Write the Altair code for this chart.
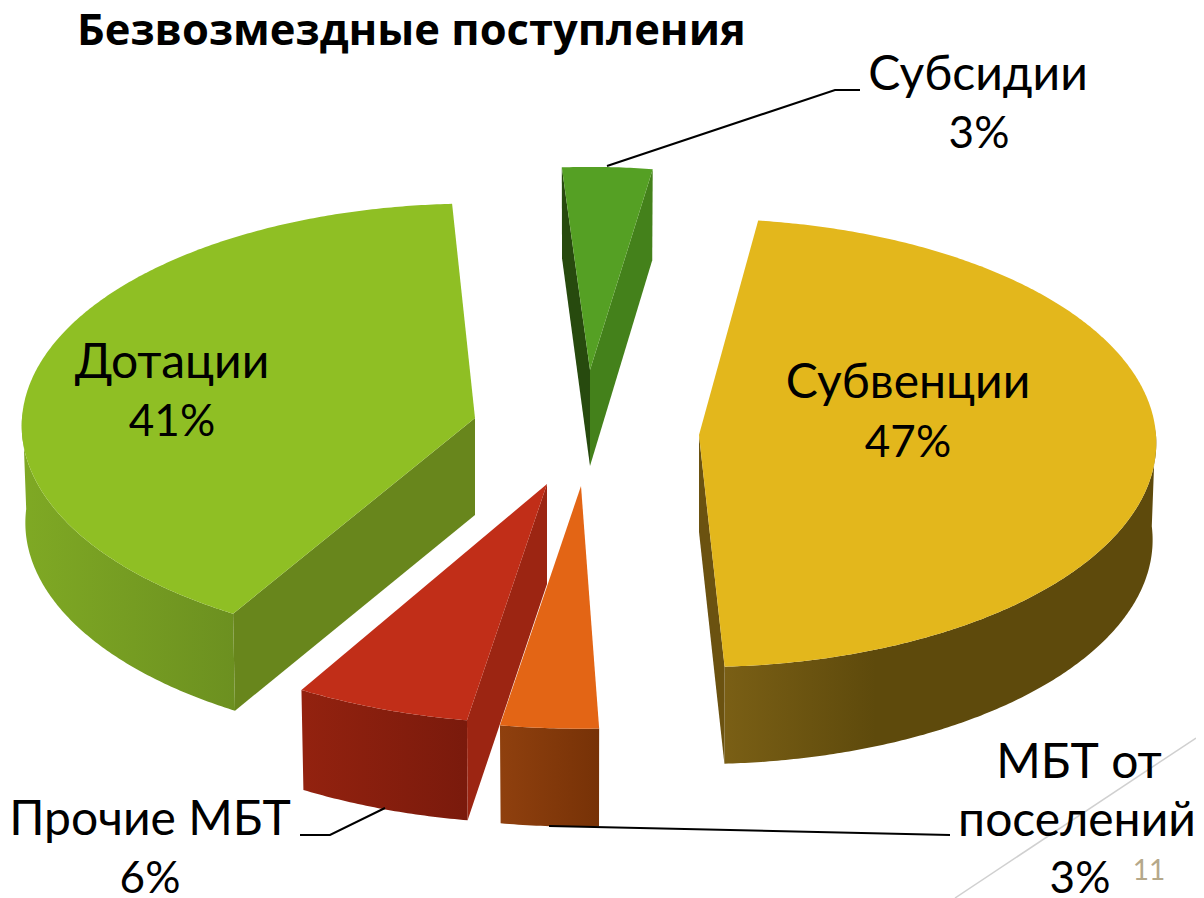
import numpy as np
import pandas as pd
import altair as alt

# ---- data
categories = ["Субвенции", "МБТ от поселений", "Прочие МБТ", "Дотации", "Субсидии"]
shares = [47.0, 3.2, 5.8, 40.5, 3.5]          # slice sizes as drawn
shown = ["47%", "3%", "6%", "41%", "3%"]      # printed labels

# ---- layout / style (separate from the data)
W, H = 1196, 898
START = 8.7
TILT, PERSP = 0.49, 0.035
apex = {"Субвенции": (699, 435), "МБТ от поселений": (581, 486), "Прочие МБТ": (547, 484),
        "Дотации": (475, 418), "Субсидии": (590, 370)}
radius = {"Субвенции": 457, "МБТ от поселений": 478, "Прочие МБТ": 472, "Дотации": 453, "Субсидии": 429}
depth = {"Субвенции": 97, "МБТ от поселений": 98, "Прочие МБТ": 100, "Дотации": 97, "Субсидии": 96}
nudge = {"Субвенции": -1.0, "Дотации": 0.9}
top_col = {"Субвенции": "#e3b71c", "МБТ от поселений": "#e36515", "Прочие МБТ": "#c12e18",
           "Дотации": "#8fbf24", "Субсидии": "#55a024"}
wall_col = {"Субвенции": ("#7a5f15", "#5e4a0c", 0.35), "МБТ от поселений": ("#8f400e", "#773207", 1),
            "Прочие МБТ": ("#93220f", "#7a1a0c", 1), "Дотации": ("#7fa924", "#6c9020", 1)}
cut_col = {"Субвенции": "#6b5210", "Прочие МБТ": "#9c2512", "Дотации": "#68861c"}


def pt(name, a, low=False):
    ax, ay = apex[name]
    R = radius[name]
    t = np.radians(a)
    X, Y = np.sin(t), -np.cos(t)
    k = 1 / (1 - PERSP * Y)
    if low:
        return ax + 0.992 * R * X * k, ay + depth[name] + 5 * min(Y, 0) + R * TILT * Y * k
    return ax + R * X * k, ay + R * TILT * Y * k


def grad(c0, c1, mid=1):
    stops = [alt.GradientStop(color=c0, offset=0), alt.GradientStop(color=c1, offset=mid)]
    if mid < 1:
        stops.append(alt.GradientStop(color=c1, offset=1))
    return alt.Gradient(gradient="linear", stops=stops, x1=0, x2=1, y1=0, y2=0)


xs = alt.X("x:Q", scale=alt.Scale(domain=[8, W], nice=False, zero=False), axis=None)
ys = alt.Y("y:Q", scale=alt.Scale(domain=[H, 8], nice=False, zero=False), axis=None)


def poly(points, fill):
    df = pd.DataFrame(points, columns=["x", "y"])
    df["i"] = range(len(df))
    return alt.Chart(df).mark_line(fill=fill, strokeOpacity=0, interpolate="linear").encode(
        x=xs, y=ys, order="i:Q")


def ln(points, color="#000000", w=2):
    df = pd.DataFrame(points, columns=["x", "y"])
    df["i"] = range(len(df))
    return alt.Chart(df).mark_line(color=color, strokeWidth=w).encode(x=xs, y=ys, order="i:Q")


spans = {}
a = START
for c, s in zip(categories, shares):
    b = a + s * 3.6
    n = nudge.get(c, 0)
    spans[c] = (a + n, b + n)
    a = b

layers = []
for c in ["Дотации", "Субсидии", "Прочие МБТ", "МБТ от поселений", "Субвенции"]:
    a0, a1 = spans[c]
    angs = np.linspace(a0, a1, max(int((a1 - a0) * 2), 6))
    ax, ay = apex[c]
    # outer wall: only the front part
    if c in wall_col:
        front = [v for v in angs if np.cos(np.radians(v)) <= 0.03]
        p = [pt(c, v) for v in front] + [pt(c, v, True) for v in front[::-1]]
        c0, c1, m = wall_col[c]
        layers.append(poly(p, grad(c0, c1, m)))
    # flat cut faces
    bottom_apex = (ax, ay + depth[c])
    if c == "Субсидии":
        layers.append(poly([pt(c, a0), (ax, ay), bottom_apex, pt(c, a0, True)], "#274a0e"))
        layers.append(poly([(ax, ay), pt(c, a1), pt(c, a1, True), bottom_apex], "#44811b"))
    elif c in cut_col:
        e = a1 if c == "Субвенции" else a0
        layers.append(poly([(ax, ay), pt(c, e), pt(c, e, True), bottom_apex], cut_col[c]))
    # top face
    layers.append(poly([(ax, ay)] + [pt(c, v) for v in angs], top_col[c]))

# leader lines
leaders = [
    [(607, 166), (835, 90), (860, 90)],
    [(300, 835), (330, 835), (385, 808)],
    [(549, 826), (950, 835)],
]
for l in leaders:
    layers.append(ln(l))
# slide decoration
layers.append(ln([(955, 898), (1196, 738)], "#d0d0d0", 1.5))

pct = dict(zip(categories, shown))
LAB, PCT = 48, 44
texts = [
    ("Безвозмездные поступления", 77, 45, "left", 43.5, "bold", "#000000", "Open Sans"),
    ("Субсидии", 978, 90, "center", LAB, "normal", "#000000", "Lato"),
    (pct["Субсидии"], 979, 148, "center", PCT, "normal", "#000000", "Lato"),
    ("Дотации", 172, 378, "center", LAB, "normal", "#000000", "Lato"),
    (pct["Дотации"], 172, 436, "center", PCT, "normal", "#000000", "Lato"),
    ("Субвенции", 908, 398, "center", LAB, "normal", "#000000", "Lato"),
    (pct["Субвенции"], 908, 457, "center", PCT, "normal", "#000000", "Lato"),
    ("МБТ от", 1079, 778, "center", LAB, "normal", "#000000", "Lato"),
    ("поселений", 1077, 836, "center", LAB, "normal", "#000000", "Lato"),
    (pct["МБТ от поселений"], 1080, 893, "center", PCT, "normal", "#000000", "Lato"),
    ("Прочие МБТ", 150, 835, "center", LAB, "normal", "#000000", "Lato"),
    (pct["Прочие МБТ"], 150, 893, "center", PCT, "normal", "#000000", "Lato"),
    ("11", 1149, 880, "center", 28, "normal", "#b5a88a", "Lato"),
]
for t, x, y, al, size, wt, col, fnt in texts:
    df = pd.DataFrame({"x": [x], "y": [y], "t": [t]})
    layers.append(alt.Chart(df).mark_text(align=al, baseline="alphabetic", fontSize=size, fontWeight=wt,
                                          font=fnt, color=col).encode(x=xs, y=ys, text="t:N"))

chart = alt.layer(*layers).properties(width=W - 8, height=H - 8, padding=0, background="#ffffff",
                                      autosize=alt.AutoSizeParams(type="none")
                                      ).configure_view(stroke=None)
chart.save("out.html", embed_options={"renderer": "svg", "actions": False})
